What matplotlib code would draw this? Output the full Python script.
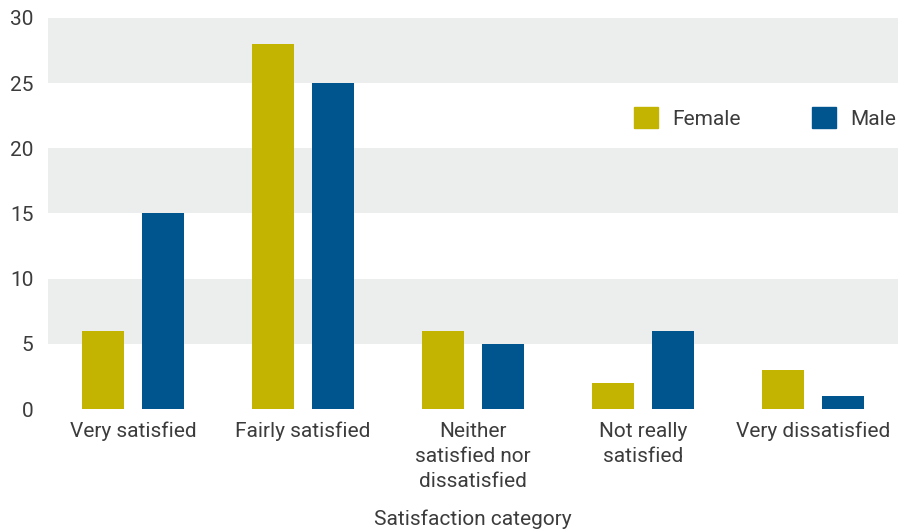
import numpy as np
import matplotlib.pyplot as plt
from matplotlib.patches import Patch

# data
categories = ["Very satisfied", "Fairly satisfied", "Neither\nsatisfied nor\ndissatisfied",
              "Not really\nsatisfied", "Very dissatisfied"]
female = [6, 28, 6, 2, 3]
male = [15, 25, 5, 6, 1]
yticks = [0, 5, 10, 15, 20, 25, 30]

c_female = "#C2B400"
c_male = "#00558F"
c_text = "#3c3c3c"
c_band = "#ECEEEE"

plt.rcParams['font.family'] = ['Roboto', 'DejaVu Sans']

fig = plt.figure(figsize=(9.12, 5.32), dpi=100)
ax = fig.add_axes([0.0526, 0.2312, 0.932, 0.735])

# alternating bands
for lo in range(5, 30, 10):
    ax.axhspan(lo, lo + 5, color=c_band, zorder=0, lw=0)

x = np.arange(len(categories))
w = 0.247
off = 0.176
ax.bar(x - off, female, w, color=c_female, zorder=2, label="Female")
ax.bar(x + off, male, w, color=c_male, zorder=2, label="Male")

ax.set_xlim(-0.5, len(categories) - 0.5)
ax.set_ylim(0, 30)
ax.set_yticks(yticks)
ax.set_xticks(x)
ax.set_xticklabels(categories, fontsize=15, color=c_text, linespacing=1.42)
ax.tick_params(axis='y', labelsize=15, colors=c_text, length=0, pad=10.5)
ax.tick_params(axis='x', length=0, pad=9)
for s in ax.spines.values():
    s.set_visible(False)

ax.set_xlabel("Satisfaction category", fontsize=15, color=c_text, labelpad=13)

handles = [Patch(color=c_female, label="Female"), Patch(color=c_male, label="Male")]
leg = ax.legend(handles=handles, ncol=2, frameon=False, fontsize=15,
                loc="upper right", bbox_to_anchor=(1.02, 0.82),
                handlelength=1.15, handleheight=1.15, handletextpad=0.7,
                columnspacing=3.4)
for t in leg.get_texts():
    t.set_color(c_text)

fig.savefig("out.png", dpi=100)
